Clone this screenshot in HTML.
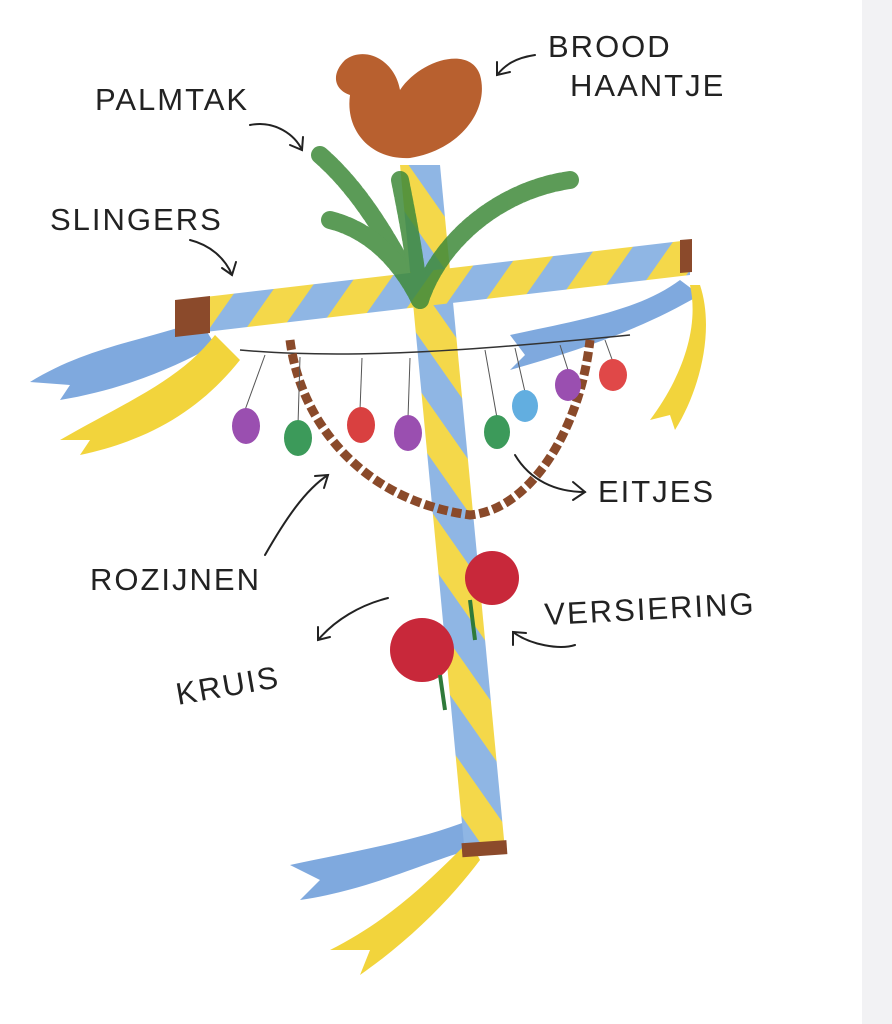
<!DOCTYPE html>
<html><head><meta charset="utf-8"><style>
html,body{margin:0;padding:0;background:#fff}
svg{display:block}
text{font-family:"Liberation Sans",sans-serif;font-size:31px;fill:#222;letter-spacing:2px}
</style></head><body>
<svg width="892" height="1024" viewBox="0 0 892 1024" xmlns="http://www.w3.org/2000/svg">
<defs>
<pattern id="st" width="60" height="60" patternUnits="userSpaceOnUse" patternTransform="rotate(35)">
<rect width="60" height="60" fill="#f4d84a"/><rect width="30" height="60" fill="#8fb6e4"/>
</pattern>
<pattern id="st2" width="60" height="60" patternUnits="userSpaceOnUse" patternTransform="rotate(-35)">
<rect width="60" height="60" fill="#f4d84a"/><rect width="30" height="60" fill="#8fb6e4"/>
</pattern>
</defs>
<rect x="862" y="0" width="30" height="1024" fill="#f2f2f4"/>
<path d="M470,820 C420,840 360,850 290,865 L320,880 L300,900 C370,890 430,860 470,850Z" fill="#7fa9de"/>
<path d="M470,840 C430,880 390,920 330,950 L370,950 L360,975 C410,940 450,900 480,860Z" fill="#f2d43c"/>
<polygon points="400,165 440,165 505,850 465,855" fill="url(#st2)"/>
<rect x="462" y="842" width="45" height="14" fill="#8b4a2b" transform="rotate(-4 480 850)"/>
<path d="M200,320 C150,340 90,345 30,382 L70,385 L60,400 C120,390 170,370 215,345Z" fill="#7fa9de"/>
<path d="M215,335 C180,380 130,400 60,440 L90,440 L80,455 C150,440 200,410 240,360Z" fill="#f2d43c"/>
<path d="M680,280 C640,310 580,320 510,335 L525,355 L510,370 C580,350 640,330 700,295Z" fill="#7fa9de"/>
<path d="M690,285 C700,330 680,380 650,420 L670,415 L675,430 C700,390 715,330 700,285Z" fill="#f2d43c"/>
<polygon points="180,300 690,240 690,275 180,335" fill="url(#st)"/>
<polygon points="175,300 210,296 210,333 175,337" fill="#8b4a2b"/>
<polygon points="680,240 692,239 692,272 680,273" fill="#8b4a2b"/>
<path d="M240,350 C350,360 480,350 630,335" stroke="#333" stroke-width="1.5" fill="none"/>
<path d="M290,340 C300,420 360,500 470,515 C530,510 580,430 590,340" stroke="#8a4a2a" stroke-width="9" stroke-dasharray="10 4" fill="none"/>
<g stroke="#555" stroke-width="1">
<line x1="265" y1="355" x2="245" y2="410"/><line x1="300" y1="357" x2="298" y2="425"/>
<line x1="362" y1="358" x2="360" y2="410"/><line x1="410" y1="358" x2="408" y2="418"/>
<line x1="485" y1="350" x2="497" y2="418"/><line x1="515" y1="348" x2="525" y2="392"/>
<line x1="560" y1="345" x2="568" y2="370"/><line x1="605" y1="340" x2="613" y2="362"/>
</g>
<ellipse cx="246" cy="426" rx="14" ry="18" fill="#9a4fb0"/>
<ellipse cx="298" cy="438" rx="14" ry="18" fill="#3c9a5a"/>
<ellipse cx="361" cy="425" rx="14" ry="18" fill="#d94040"/>
<ellipse cx="408" cy="433" rx="14" ry="18" fill="#9a4fb0"/>
<ellipse cx="497" cy="432" rx="13" ry="17" fill="#3c9a5a"/>
<ellipse cx="525" cy="406" rx="13" ry="16" fill="#62aee0"/>
<ellipse cx="568" cy="385" rx="13" ry="16" fill="#9a4fb0"/>
<ellipse cx="613" cy="375" rx="14" ry="16" fill="#e04848"/>
<g stroke="#3f8a3a" stroke-width="18" stroke-linecap="round" fill="none" opacity="0.85" stroke-dasharray="6 3">
<path d="M320,155 C360,190 390,240 420,300"/>
<path d="M570,180 C500,190 440,240 420,300"/>
<path d="M330,220 C370,230 400,260 420,300"/>
<path d="M400,180 C410,230 415,260 420,300"/>
</g>
<path d="M345,60 C365,45 395,60 400,90 C420,60 470,45 480,75 C490,110 460,150 410,158 C370,160 345,130 350,95 C335,90 330,75 345,60Z" fill="#b8602f"/>
<circle cx="492" cy="578" r="27" fill="#c8283a"/>
<circle cx="422" cy="650" r="32" fill="#c8283a"/>
<path d="M470,600 L475,640 M440,675 L445,710" stroke="#2f7a3a" stroke-width="4"/>
<text x="95" y="110">PALMTAK</text>
<text x="548" y="57">BROOD</text>
<text x="570" y="96">HAANTJE</text>
<text x="50" y="230">SLINGERS</text>
<text x="598" y="502">EITJES</text>
<text x="90" y="590">ROZIJNEN</text>
<text x="545" y="625" transform="rotate(-3 545 625)">VERSIERING</text>
<text x="178" y="705" transform="rotate(-10 178 705)">KRUIS</text>
<g stroke="#222" stroke-width="2" fill="none" stroke-linecap="round">
<path d="M250,125 C275,120 295,135 302,150"/><path d="M290,145 L302,150 L303,137"/>
<path d="M535,55 C515,58 505,65 497,75"/><path d="M497,62 L497,75 L510,72"/>
<path d="M190,240 C210,245 225,258 232,275"/><path d="M222,268 L232,275 L236,262"/>
<path d="M515,455 C530,480 555,492 585,492"/><path d="M573,482 L585,492 L573,500"/>
<path d="M265,555 C285,520 305,490 328,475"/><path d="M315,476 L328,475 L324,488"/>
<path d="M575,645 C560,650 530,645 513,632"/><path d="M513,645 L513,632 L526,633"/>
<path d="M388,598 C360,605 335,620 318,640"/><path d="M318,627 L318,640 L330,637"/>
</g>
</svg>
</body></html>
